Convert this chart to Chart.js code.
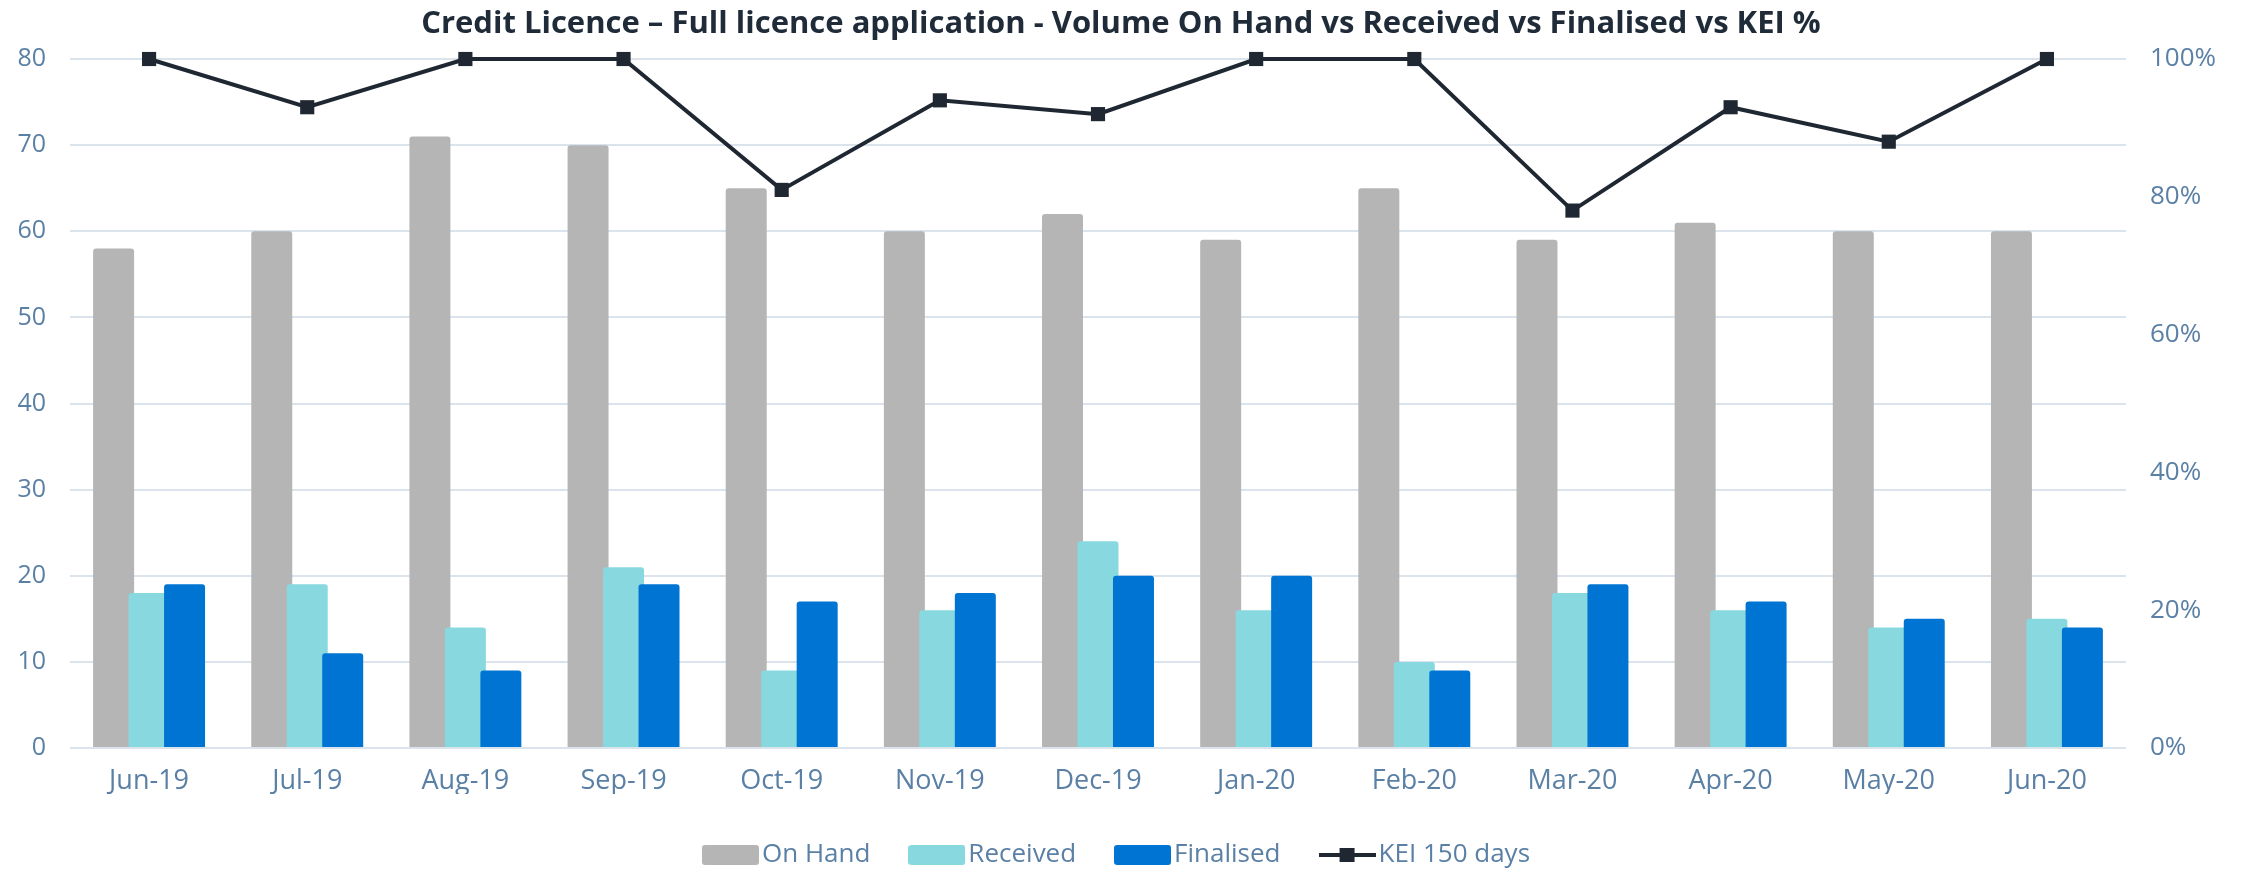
<!DOCTYPE html>
<html>
<head>
<meta charset="utf-8">
<script src="https://cdn.jsdelivr.net/npm/chart.js@4.4.1/dist/chart.umd.min.js"></script>
<style>
  html, body { margin: 0; padding: 0; background: #ffffff; overflow: hidden; }
  #wrap { width: 2242px; height: 871px; }
</style>
</head>
<body>
<div id="wrap"><canvas id="c" width="2242" height="871"></canvas></div>
<script>
// ---- data ----
const categories = ['Jun-19','Jul-19','Aug-19','Sep-19','Oct-19','Nov-19','Dec-19','Jan-20','Feb-20','Mar-20','Apr-20','May-20','Jun-20'];
const onHand    = [58, 60, 71, 70, 65, 60, 62, 59, 65, 59, 61, 60, 60];
const received  = [18, 19, 14, 21,  9, 16, 24, 16, 10, 18, 16, 14, 15];
const finalised = [19, 11,  9, 19, 17, 18, 20, 20,  9, 19, 17, 15, 14];
const kei150    = [100, 93, 100, 100, 81, 94, 92, 100, 100, 78, 93, 88, 100];
const leftTicks = { min: 0, max: 80, step: 10 };
const rightTicks = { min: 0, max: 100, step: 20 };
const seriesNames = ['On Hand', 'Received', 'Finalised', 'KEI 150 days'];
const chartTitle = 'Credit Licence \u2013 Full licence application - Volume On Hand vs Received vs Finalised vs KEI %';

// ---- styles ----
const COL_GREY = '#b5b5b5';
const COL_CYAN = '#87d9df';
const COL_BLUE = '#0074d2';
const COL_LINE = '#1f2832';
const COL_TEXT = '#5b80a5';
const COL_TITLE = '#1f2b38';
const COL_GRID = '#dbe4ed';

Chart.defaults.font.family = "'Open Sans', 'Noto Sans', sans-serif";

function boxIcon(color) {
  const cv = document.createElement('canvas');
  cv.width = 57; cv.height = 20;
  const g = cv.getContext('2d');
  g.fillStyle = color;
  g.beginPath();
  if (g.roundRect) g.roundRect(0, 0, 57, 20, 3); else g.rect(0, 0, 57, 20);
  g.fill();
  return cv;
}
function lineIcon(color) {
  const cv = document.createElement('canvas');
  cv.width = 57; cv.height = 20;
  const g = cv.getContext('2d');
  g.strokeStyle = color; g.lineWidth = 4;
  g.beginPath(); g.moveTo(0, 10); g.lineTo(57, 10); g.stroke();
  g.fillStyle = color;
  g.fillRect(21, 3, 15, 14);
  return cv;
}
const icons = [boxIcon(COL_GREY), boxIcon(COL_CYAN), boxIcon(COL_BLUE), lineIcon(COL_LINE)];

const drawOrderPlugin = {
  id: 'drawOrder',
  beforeDatasetsDraw(chart) {
    for (let i = 0; i < chart.data.datasets.length; i++) {
      const meta = chart.getDatasetMeta(i);
      if (chart.isDatasetVisible(i)) meta.controller.draw();
    }
    return false;
  }
};

const barCommon = {
  type: 'bar',
  yAxisID: 'y',
  categoryPercentage: 0.673,
  barPercentage: 1.155,
  borderRadius: { topLeft: 3, topRight: 3, bottomLeft: 0, bottomRight: 0 },
  borderSkipped: 'start',
  borderWidth: 0
};

new Chart(document.getElementById('c'), {
  data: {
    labels: categories,
    datasets: [
      Object.assign({}, barCommon, { label: seriesNames[0], data: onHand, backgroundColor: COL_GREY }),
      Object.assign({}, barCommon, { label: seriesNames[1], data: received, backgroundColor: COL_CYAN }),
      Object.assign({}, barCommon, { label: seriesNames[2], data: finalised, backgroundColor: COL_BLUE }),
      {
        type: 'line', label: seriesNames[3], data: kei150, yAxisID: 'y1',
        borderColor: COL_LINE, backgroundColor: COL_LINE, borderWidth: 4, tension: 0,
        pointStyle: 'rect', pointRadius: 10, pointBackgroundColor: COL_LINE,
        pointBorderWidth: 0, pointHoverRadius: 10, clip: false, fill: false
      }
    ]
  },
  options: {
    responsive: false,
    animation: false,
    devicePixelRatio: 1,
    layout: { padding: 0 },
    plugins: {
      tooltip: { enabled: false },
      title: {
        display: true,
        text: chartTitle,
        color: COL_TITLE,
        font: { size: 31, weight: 'bold' },
        padding: { top: 6, bottom: 15.8 }
      },
      legend: {
        position: 'bottom',
        maxHeight: 77,
        labels: {
          usePointStyle: true,
          pointStyleWidth: 37,
          padding: 48,
          color: COL_TEXT,
          font: { size: 26 },
          generateLabels(chart) {
            return chart.data.datasets.map((ds, i) => ({
              text: ds.label,
              fillStyle: ds.backgroundColor,
              strokeStyle: ds.backgroundColor,
              lineWidth: 0,
              pointStyle: icons[i],
              hidden: !chart.isDatasetVisible(i),
              datasetIndex: i,
              fontColor: COL_TEXT
            }));
          }
        }
      }
    },
    scales: {
      x: {
        offset: true,
        grid: { display: false, drawTicks: false },
        border: { display: false },
        ticks: { color: COL_TEXT, font: { size: 27 }, padding: 17, maxRotation: 0, autoSkip: false },
        afterFit(scale) { scale.height = 46; }
      },
      y: {
        position: 'left',
        min: leftTicks.min, max: leftTicks.max,
        ticks: { stepSize: leftTicks.step, color: COL_TEXT, font: { size: 25 }, padding: 24 },
        grid: { color: COL_GRID, lineWidth: 2, drawTicks: false },
        border: { display: false },
        afterFit(scale) { scale.width = 70; }
      },
      y1: {
        position: 'right',
        min: rightTicks.min, max: rightTicks.max,
        ticks: { stepSize: rightTicks.step, color: COL_TEXT, font: { size: 26 }, padding: 24,
                 callback: (v) => v + '%' },
        grid: { drawOnChartArea: false, drawTicks: false },
        border: { display: false },
        afterFit(scale) { scale.width = 116; }
      }
    }
  },
  plugins: [drawOrderPlugin]
});
</script>
</body>
</html>
